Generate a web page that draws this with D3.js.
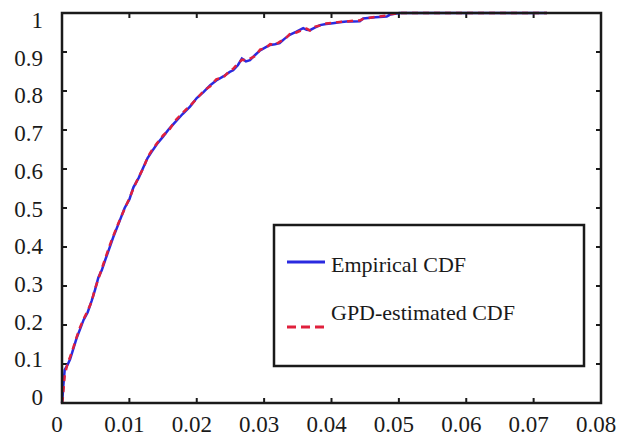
<!DOCTYPE html>
<html>
<head>
<meta charset="utf-8">
<script src="https://cdn.jsdelivr.net/npm/d3@7"></script>
<style>
  body { margin: 0; background: #fff; }
</style>
</head>
<body>
<div id="chart-container"></div>
<script>
const lossX = [0, 0.0001, 0.0002, 0.0004, 0.0008, 0.0012, 0.0017, 0.0022, 0.0027, 0.0032,
  0.0038, 0.0044, 0.0049, 0.0054, 0.0059, 0.0064, 0.0070, 0.0076, 0.0084, 0.0093,
  0.0100, 0.0106, 0.0114, 0.0121, 0.0127, 0.0133, 0.0141, 0.0150, 0.0159, 0.0168,
  0.0179, 0.0190, 0.0200, 0.0210, 0.0220, 0.0229, 0.0240, 0.0249, 0.0254, 0.0261,
  0.0267, 0.0273, 0.0279, 0.0287, 0.0294, 0.0302, 0.0309, 0.0316, 0.0323, 0.0331,
  0.0338, 0.0348, 0.0358, 0.0363, 0.0368, 0.0376, 0.0383, 0.0392, 0.0402, 0.0412,
  0.0422, 0.0432, 0.0442, 0.0447, 0.0465, 0.0482, 0.0487, 0.0501, 0.0530, 0.0560,
  0.0590, 0.0620, 0.0650, 0.0680, 0.0710, 0.0720];

const empiricalCdf = [0, 0.02, 0.045, 0.085, 0.097, 0.112, 0.14, 0.168, 0.19, 0.213,
  0.232, 0.262, 0.29, 0.322, 0.34, 0.366, 0.395, 0.425, 0.46, 0.5,
  0.522, 0.553, 0.578, 0.605, 0.628, 0.644, 0.664, 0.683, 0.703, 0.72,
  0.741, 0.76, 0.782, 0.797, 0.815, 0.827, 0.838, 0.849, 0.853, 0.866,
  0.883, 0.876, 0.879, 0.893, 0.904, 0.912, 0.918, 0.92, 0.923, 0.935,
  0.944, 0.952, 0.961, 0.957, 0.956, 0.963, 0.969, 0.972, 0.974, 0.976,
  0.978, 0.978, 0.979, 0.986, 0.989, 0.991, 0.996, 1, 1, 1,
  1, 1, 1, 1, 1, 1];

const gpdCdf = [0, 0.01, 0.03, 0.07, 0.1, 0.118, 0.143, 0.17, 0.195, 0.215,
  0.236, 0.26, 0.293, 0.318, 0.344, 0.37, 0.4, 0.428, 0.462, 0.498,
  0.525, 0.55, 0.58, 0.603, 0.63, 0.647, 0.666, 0.686, 0.7, 0.724,
  0.744, 0.762, 0.78, 0.8, 0.812, 0.83, 0.836, 0.852, 0.857, 0.87,
  0.88, 0.879, 0.883, 0.89, 0.906, 0.91, 0.92, 0.918, 0.926, 0.933,
  0.946, 0.95, 0.958, 0.96, 0.955, 0.965, 0.968, 0.973, 0.975, 0.977,
  0.978, 0.98, 0.981, 0.985, 0.99, 0.993, 0.997, 1, 1, 1,
  1, 1, 1, 1, 1, 1];

const xTicks = [0, 0.01, 0.02, 0.03, 0.04, 0.05, 0.06, 0.07, 0.08];
const yTicks = [0, 0.1, 0.2, 0.3, 0.4, 0.5, 0.6, 0.7, 0.8, 0.9, 1];
const legendLabels = ["Empirical CDF", "GPD-estimated CDF"];

const main = function() {
  const width = 626, height = 440;
  const left = 62, right = 601, top = 13, bottom = 403;
  const font = "'Liberation Serif', 'Times New Roman', serif";

  const svg = d3.select("#chart-container")
    .append("svg")
    .attr("width", width)
    .attr("height", height);

  const x = d3.scaleLinear().domain([0, 0.08]).range([left, right]);
  const y = d3.scaleLinear().domain([0, 1]).range([bottom, top]);
  // tick labels in the original sit a bit tighter than the ticks
  const yLabel = d3.scaleLinear().domain([0, 1]).range([397, 20]);

  // ticks on all four sides, pointing inward
  const tickLen = 5;
  const axisG = svg.append("g").attr("stroke", "#1a1a1a").attr("stroke-width", 2);
  xTicks.slice(1, -1).forEach(t => {
    axisG.append("line").attr("x1", x(t)).attr("x2", x(t)).attr("y1", bottom).attr("y2", bottom - tickLen);
    axisG.append("line").attr("x1", x(t)).attr("x2", x(t)).attr("y1", top).attr("y2", top + tickLen);
  });
  yTicks.slice(1, -1).forEach(t => {
    axisG.append("line").attr("x1", left).attr("x2", left + tickLen).attr("y1", y(t)).attr("y2", y(t));
    axisG.append("line").attr("x1", right).attr("x2", right - tickLen).attr("y1", y(t)).attr("y2", y(t));
  });

  svg.selectAll(".xlab")
    .data(xTicks)
    .enter()
    .append("text")
    .attr("x", d => x(d) - 5)
    .attr("y", 432)
    .attr("text-anchor", "middle")
    .style("font-family", font)
    .style("font-size", "23px")
    .style("fill", "#1a1a1a")
    .text(d => d);

  svg.selectAll(".ylab")
    .data(yTicks)
    .enter()
    .append("text")
    .attr("x", 43)
    .attr("y", d => yLabel(d))
    .attr("dy", "0.35em")
    .attr("text-anchor", "end")
    .style("font-family", font)
    .style("font-size", "23px")
    .style("fill", "#1a1a1a")
    .text(d => d);

  const line = d3.line()
    .x(d => x(d[0]))
    .y(d => y(d[1]));

  svg.append("path")
    .datum(lossX.map((v, i) => [v, empiricalCdf[i]]))
    .attr("d", line)
    .style("fill", "none")
    .style("stroke", "#2a2ae0")
    .style("stroke-width", 2.5);

  svg.append("path")
    .datum(lossX.map((v, i) => [v, gpdCdf[i]]))
    .attr("d", line)
    .style("fill", "none")
    .style("stroke", "#e0203c")
    .style("stroke-width", 2.5)
    .style("stroke-dasharray", "6,5");

  // frame
  svg.append("rect")
    .attr("x", left)
    .attr("y", top)
    .attr("width", right - left)
    .attr("height", bottom - top)
    .style("fill", "none")
    .style("stroke", "#1a1a1a")
    .style("stroke-width", 2.5);

  // legend
  const legend = svg.append("g");
  legend.append("rect")
    .attr("x", 274)
    .attr("y", 225)
    .attr("width", 310)
    .attr("height", 141)
    .style("fill", "#fff")
    .style("stroke", "#1a1a1a")
    .style("stroke-width", 2.5);

  legend.append("line")
    .attr("x1", 287).attr("x2", 325).attr("y1", 262).attr("y2", 262)
    .style("stroke", "#2a2ae0").style("stroke-width", 3);
  legend.append("line")
    .attr("x1", 287).attr("x2", 325).attr("y1", 327).attr("y2", 327)
    .style("stroke", "#e0203c").style("stroke-width", 3)
    .style("stroke-dasharray", "9,5");

  legend.selectAll(".leg")
    .data(legendLabels)
    .enter()
    .append("text")
    .attr("x", 331)
    .attr("y", (d, i) => i === 0 ? 272 : 320)
    .style("font-family", font)
    .style("font-size", "22px")
    .style("fill", "#1a1a1a")
    .text(d => d);
};

window.onload = main;
</script>
</body>
</html>
